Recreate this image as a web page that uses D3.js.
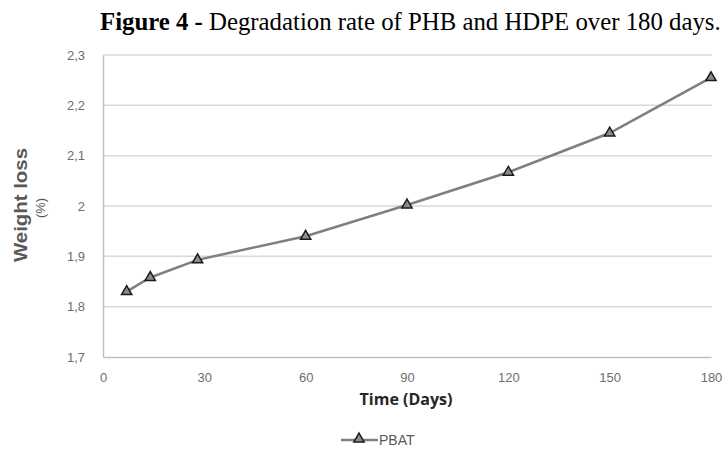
<!DOCTYPE html>
<html><head><meta charset="utf-8">
<script src="https://cdn.jsdelivr.net/npm/d3@7"></script>
<style>body{margin:0;background:#fff}svg{display:block}</style>
</head><body>
<script>
const days = [7, 14, 28, 60, 90, 120, 150, 180];
const weightLoss = [1.83, 1.858, 1.893, 1.94, 2.002, 2.067, 2.145, 2.255];
const xTicks = [0, 30, 60, 90, 120, 150, 180];
const yTicks = [1.7, 1.8, 1.9, 2.0, 2.1, 2.2, 2.3];
const seriesName = "PBAT";

const W = 726, H = 468;
const svg = d3.select("body").append("svg").attr("width", W).attr("height", H);
const x = d3.scaleLinear().domain([0, 180]).range([103, 711]);
const y = d3.scaleLinear().domain([1.7, 2.3]).range([357, 55]);
const fmt = d => String(d).replace(".", ",");

// title
const t = svg.append("text").attr("x", 100).attr("y", 30)
  .attr("font-family", "Liberation Serif, Times New Roman, serif").attr("font-size", 24.8).attr("fill", "#000");
t.append("tspan").attr("font-weight", "bold").text("Figure 4 - ");
t.append("tspan").text("Degradation rate of PHB and HDPE over 180 days.");

// gridlines
svg.append("g").selectAll("line").data(yTicks.filter(d => d > 1.7)).join("line")
  .attr("x1", 103).attr("x2", 712).attr("y1", d => y(d)).attr("y2", d => y(d))
  .attr("stroke", "#d9d9d9").attr("stroke-width", 1.5);

// axes
const yAxis = svg.append("g").attr("transform", "translate(103,0)")
  .call(d3.axisLeft(y).tickValues(yTicks).tickFormat(fmt).tickSize(0).tickPadding(18));
const xAxis = svg.append("g").attr("transform", "translate(0,357)")
  .call(d3.axisBottom(x).tickValues(xTicks).tickSize(0).tickPadding(16));
[yAxis, xAxis].forEach(g => {
  g.select(".domain").attr("stroke", "#bfbfbf").attr("stroke-width", 1.5);
  g.selectAll("text").attr("font-family", "Liberation Sans, Arial, sans-serif")
    .attr("font-size", 13).attr("fill", "#6e6e6e");
});

// line
svg.append("path").datum(days.map((d, i) => [d, weightLoss[i]]))
  .attr("fill", "none").attr("stroke", "#7f7f7f").attr("stroke-width", 2.5)
  .attr("d", d3.line().x(d => x(d[0])).y(d => y(d[1])));

const tri = d3.symbol().type(d3.symbolTriangle).size(45);
svg.append("g").selectAll("path").data(days.map((d, i) => [d, weightLoss[i]])).join("path")
  .attr("d", tri).attr("transform", d => `translate(${x(d[0])},${y(d[1])})`)
  .attr("fill", "#8c8c8c").attr("stroke", "#1a1a1a").attr("stroke-width", 1.5);

// axis titles
svg.append("text").attr("transform", "translate(27,205) rotate(-90)").attr("text-anchor", "middle")
  .attr("font-family", "Liberation Sans, Arial, sans-serif").attr("font-weight", "bold")
  .attr("font-size", 19).attr("textLength", 114).attr("lengthAdjust", "spacingAndGlyphs")
  .attr("fill", "#595959").text("Weight loss");
svg.append("text").attr("transform", "translate(45,208) rotate(-90)").attr("text-anchor", "middle")
  .attr("font-family", "Liberation Sans, Arial, sans-serif")
  .attr("font-size", 13).attr("fill", "#595959").text("(%)");
svg.append("text").attr("x", 406).attr("y", 405).attr("text-anchor", "middle")
  .attr("font-family", "Open Sans, Liberation Sans, sans-serif").attr("font-weight", "bold")
  .attr("font-size", 16).attr("fill", "#262626").text("Time (Days)");

// legend
const lg = svg.append("g");
lg.append("line").attr("x1", 341).attr("x2", 378).attr("y1", 440).attr("y2", 440)
  .attr("stroke", "#7f7f7f").attr("stroke-width", 2.5);
lg.append("path").attr("d", tri).attr("transform", "translate(359,439)")
  .attr("fill", "#8c8c8c").attr("stroke", "#1a1a1a").attr("stroke-width", 1.5);
lg.append("text").attr("x", 379).attr("y", 445).attr("font-family", "Liberation Sans, Arial, sans-serif")
  .attr("font-size", 14).attr("fill", "#595959").text(seriesName);
</script>
</body></html>
